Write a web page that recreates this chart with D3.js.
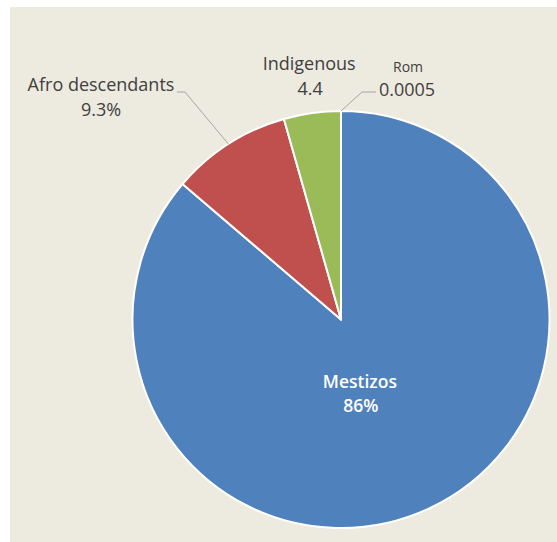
<!DOCTYPE html>
<html><head><meta charset="utf-8">
<script src="https://cdn.jsdelivr.net/npm/d3@7"></script>
<style>
html,body{margin:0;padding:0;background:#ffffff;}
svg{display:block;}
text{font-family:"Open Sans",sans-serif;}
</style></head>
<body>
<script>
const categories = ["Mestizos", "Afro descendants", "Indigenous", "Rom"];
const values = [86, 9.3, 4.4, 0.0005];
const valueLabels = ["86%", "9.3%", "4.4", "0.0005"];
const colors = ["#4f81bd", "#c0504d", "#9bbb59", "#4f81bd"];

const W = 557, H = 542;
const svg = d3.select("body").append("svg").attr("width", W).attr("height", H);
svg.append("rect").attr("x", 10).attr("y", 7).attr("width", W - 10).attr("height", H - 7).attr("fill", "#edeae0");

const cx = 341, cy = 319.5, R = 208.5;
const g = svg.append("g").attr("transform", `translate(${cx},${cy})`);
const data = categories.map((c, i) => ({ name: c, value: values[i], label: valueLabels[i], color: colors[i] }));
const pie = d3.pie().sort(null).value(d => d.value);
const arcs = pie(data);
const arc = d3.arc().innerRadius(0).outerRadius(R);

g.selectAll("path.slice").data(arcs).enter().append("path")
  .attr("class", "slice")
  .attr("d", arc)
  .attr("fill", d => d.data.color)
  .attr("stroke", "#ffffff")
  .attr("stroke-width", 2)
  .attr("stroke-linejoin", "round");

const mid = d => (d.startAngle + d.endAngle) / 2;
const onArc = (a, r) => [Math.sin(a) * r, -Math.cos(a) * r];

const textColor = "#3f3f3f";
const fs = 18;

// Mestizos: inside
{
  const d = arcs[0];
  const c = d3.arc().innerRadius(0).outerRadius(R * 0.8).centroid(d);
  const x = c[0] - 16, y = c[1];
  const t = g.append("text").attr("text-anchor", "middle").attr("fill", "#ffffff")
    .attr("font-size", 17.5).attr("font-weight", 600);
  t.append("tspan").attr("x", x).attr("y", y - 7).text(d.data.name);
  t.append("tspan").attr("x", x + 1).attr("y", y + 17).text(d.data.label);
}

// Afro descendants: outside with leader
{
  const d = arcs[1];
  const p = onArc(mid(d), R);
  const elbow = [185 - cx, 92 - cy];
  const end = [177 - cx, 92 - cy];
  g.append("polyline").attr("points", [p, elbow, end].map(q => q.join(",")).join(" "))
    .attr("fill", "none").attr("stroke", "#a5a5a5").attr("stroke-width", 1);
  const x = 101 - cx;
  const t = g.append("text").attr("text-anchor", "middle").attr("fill", textColor).attr("font-size", fs);
  t.append("tspan").attr("x", x).attr("y", 91 - cy).text(d.data.name);
  t.append("tspan").attr("x", x).attr("y", 116 - cy).text(d.data.label);
}

// Indigenous: outside, no leader
{
  const d = arcs[2];
  const p = onArc(mid(d), R);
  const x = p[0] - 3;
  const t = g.append("text").attr("text-anchor", "middle").attr("fill", textColor).attr("font-size", fs);
  t.append("tspan").attr("x", x).attr("y", 70 - cy).text(d.data.name);
  t.append("tspan").attr("x", x + 1).attr("y", 95 - cy).text(d.data.label);
}

// Rom: outside with leader
{
  const d = arcs[3];
  const p = onArc(mid(d), R);
  const elbow = [362 - cx, 92 - cy];
  const end = [376 - cx, 92 - cy];
  g.append("polyline").attr("points", [p, elbow, end].map(q => q.join(",")).join(" "))
    .attr("fill", "none").attr("stroke", "#a5a5a5").attr("stroke-width", 1);
  const t = g.append("text").attr("text-anchor", "middle").attr("fill", textColor);
  t.append("tspan").attr("x", 408 - cx).attr("y", 72 - cy).attr("font-size", 14).text(d.data.name);
  t.append("tspan").attr("x", 407 - cx).attr("y", 96 - cy).attr("font-size", fs).text(d.data.label);
}
</script>
</body></html>
